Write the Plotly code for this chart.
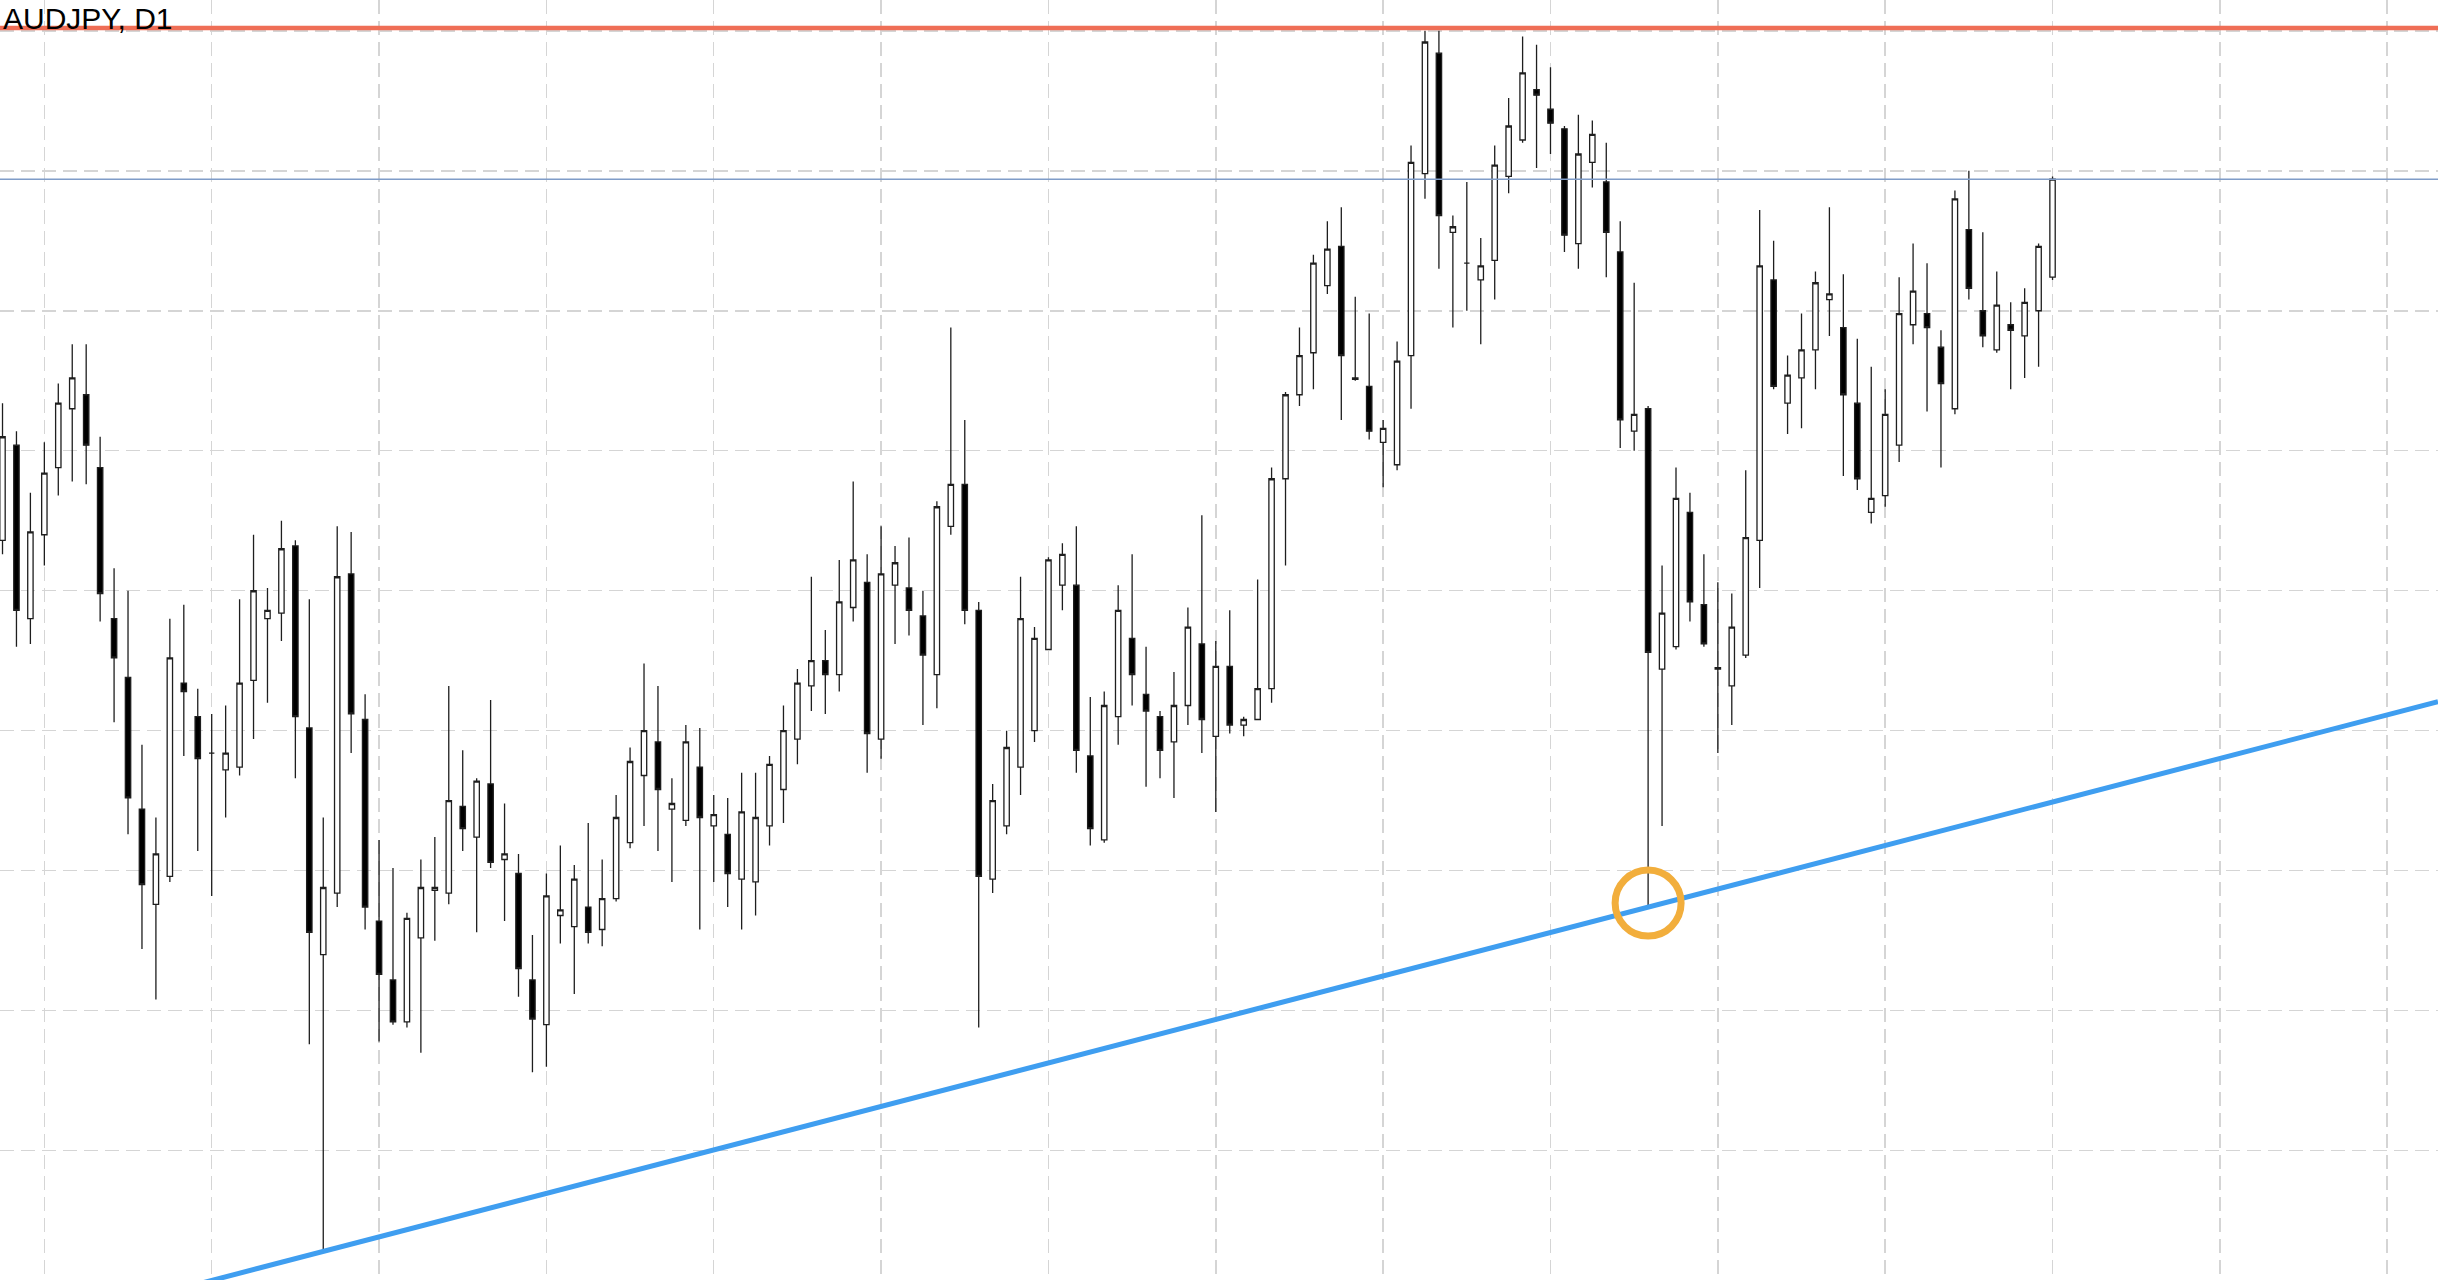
import plotly.graph_objects as go

# ---- data (AUDJPY, D1) ----
bar_index = list(range(148))
open_ = [78.68, 79.02, 78.40, 78.70, 78.94, 79.15, 79.20, 78.94, 78.40, 78.19,
         77.72, 77.38, 77.48, 78.17, 78.05, 77.92, 77.86, 77.87, 78.18, 78.40,
         78.42, 78.66, 78.01, 77.20, 77.42, 78.56, 78.04, 77.32, 77.11, 76.96,
         77.26, 77.43, 77.42, 77.73, 77.62, 77.81, 77.54, 77.49, 77.11, 76.95,
         77.34, 77.30, 77.37, 77.29, 77.40, 77.60, 77.84, 77.96, 77.72, 77.68,
         77.87, 77.66, 77.63, 77.47, 77.46, 77.66, 77.79, 77.97, 78.16, 78.25,
         78.20, 78.44, 78.53, 77.97, 78.52, 78.51, 78.41, 78.20, 78.73, 78.88,
         78.43, 77.47, 77.66, 77.87, 78.00, 78.29, 78.52, 78.52, 77.91, 77.61,
         78.05, 78.33, 78.13, 78.05, 77.96, 78.09, 78.31, 77.98, 78.23, 78.02,
         78.04, 78.15, 78.90, 79.20, 79.35, 79.59, 79.73, 79.26, 79.23, 79.03,
         78.95, 79.34, 79.99, 80.42, 79.78, 79.67, 79.61, 79.68, 79.98, 80.11,
         80.29, 80.22, 80.15, 79.74, 80.03, 79.96, 79.71, 79.07, 79.15, 78.22,
         78.30, 78.78, 78.45, 78.225, 78.16, 78.27, 78.68, 79.61, 79.17, 79.26,
         79.36, 79.54, 79.44, 79.17, 78.78, 78.84, 79.02, 79.45, 79.49, 79.37,
         79.15, 79.79, 79.50, 79.36, 79.45, 79.41, 79.50, 79.62]
high = [79.17, 79.07, 78.85, 79.03, 79.24, 79.38, 79.38, 79.05, 78.58, 78.50,
        77.95, 77.69, 78.40, 78.45, 78.15, 78.06, 78.09, 78.47, 78.70, 78.51,
        78.75, 78.68, 78.47, 77.69, 78.73, 78.71, 78.13, 77.61, 77.51, 77.35,
        77.54, 77.62, 78.16, 77.93, 77.83, 78.11, 77.74, 77.56, 77.27, 77.49,
        77.59, 77.52, 77.67, 77.54, 77.77, 77.94, 78.24, 78.16, 77.83, 78.02,
        78.01, 77.77, 77.76, 77.85, 77.85, 77.91, 78.09, 78.22, 78.55, 78.36,
        78.61, 78.89, 78.63, 78.73, 78.66, 78.69, 78.50, 78.82, 79.44, 79.11,
        78.46, 77.81, 78.00, 78.55, 78.37, 78.62, 78.67, 78.73, 78.12, 78.14,
        78.52, 78.63, 78.30, 78.07, 78.21, 78.44, 78.77, 78.32, 78.43, 78.05,
        78.54, 78.94, 79.21, 79.44, 79.70, 79.82, 79.87, 79.55, 79.49, 79.11,
        79.39, 80.09, 80.50, 80.50, 79.84, 79.96, 79.76, 80.09, 80.26, 80.48,
        80.45, 80.37, 80.16, 80.20, 80.18, 80.10, 79.82, 79.60, 79.16, 78.59,
        78.94, 78.85, 78.63, 78.53, 78.49, 78.93, 79.86, 79.75, 79.34, 79.49,
        79.64, 79.87, 79.63, 79.40, 79.30, 79.22, 79.62, 79.74, 79.67, 79.43,
        79.93, 80.00, 79.78, 79.64, 79.53, 79.58, 79.74, 79.98]
low = [78.63, 78.30, 78.31, 78.59, 78.84, 78.89, 78.88, 78.39, 78.03, 77.63,
       77.22, 77.04, 77.46, 77.91, 77.57, 77.41, 77.69, 77.84, 77.97, 78.10,
       78.32, 77.83, 76.88, 76.14, 77.37, 77.92, 77.29, 76.89, 76.95, 76.94,
       76.85, 77.25, 77.38, 77.57, 77.28, 77.51, 77.32, 77.05, 76.78, 76.80,
       77.24, 77.06, 77.24, 77.23, 77.39, 77.58, 77.66, 77.57, 77.46, 77.66,
       77.29, 77.46, 77.37, 77.29, 77.34, 77.59, 77.67, 77.88, 78.07, 78.06,
       78.14, 78.39, 77.85, 77.90, 78.31, 78.34, 78.02, 78.08, 78.70, 78.38,
       76.94, 77.42, 77.63, 77.77, 77.96, 78.29, 78.43, 77.85, 77.59, 77.60,
       77.95, 78.09, 77.80, 77.83, 77.76, 78.02, 77.92, 77.71, 77.99, 77.98,
       78.04, 78.10, 78.59, 79.16, 79.22, 79.56, 79.11, 79.25, 79.04, 78.87,
       78.93, 79.15, 79.90, 79.65, 79.44, 79.50, 79.38, 79.54, 79.92, 80.10,
       80.01, 80.06, 79.71, 79.65, 79.94, 79.62, 79.01, 79.00, 77.37, 77.66,
       78.29, 78.39, 78.30, 77.92, 78.02, 78.26, 78.51, 79.22, 79.06, 79.08,
       79.22, 79.41, 78.91, 78.86, 78.74, 78.80, 78.96, 79.38, 79.14, 78.94,
       79.13, 79.54, 79.37, 79.35, 79.22, 79.26, 79.30, 79.61]
close = [79.05, 78.43, 78.71, 78.92, 79.17, 79.26, 79.02, 78.49, 78.26, 77.76,
         77.45, 77.56, 78.26, 78.14, 77.90, 77.92, 77.92, 78.17, 78.50, 78.43,
         78.65, 78.05, 77.28, 77.44, 78.55, 78.06, 77.37, 77.13, 76.96, 77.33,
         77.44, 77.44, 77.75, 77.65, 77.82, 77.53, 77.56, 77.15, 76.97, 77.41,
         77.36, 77.47, 77.28, 77.40, 77.69, 77.89, 78.00, 77.79, 77.74, 77.96,
         77.69, 77.70, 77.49, 77.71, 77.69, 77.88, 78.00, 78.17, 78.25, 78.20,
         78.46, 78.61, 77.99, 78.56, 78.60, 78.43, 78.27, 78.80, 78.88, 78.43,
         77.48, 77.75, 77.94, 78.40, 78.33, 78.61, 78.63, 77.93, 77.65, 78.09,
         78.43, 78.20, 78.07, 77.93, 78.09, 78.37, 78.04, 78.23, 78.02, 78.04,
         78.15, 78.90, 79.20, 79.34, 79.67, 79.72, 79.34, 79.255, 79.07, 79.08,
         79.32, 80.03, 80.46, 79.84, 79.80, 79.67, 79.66, 80.02, 80.16, 80.35,
         80.27, 80.17, 79.77, 80.06, 80.13, 79.78, 79.11, 79.13, 78.28, 78.42,
         78.83, 78.46, 78.31, 78.22, 78.37, 78.69, 79.66, 79.23, 79.27, 79.36,
         79.60, 79.56, 79.20, 78.90, 78.83, 79.13, 79.49, 79.57, 79.44, 79.24,
         79.90, 79.58, 79.41, 79.52, 79.43, 79.53, 79.73, 79.97]

title_text = "AUDJPY, D1"
resistance_level = 80.51
current_level = 79.97
trend_touch_bars = [23, 118]          # bars whose lows define the rising trend line
highlight_bar = 118                    # bar circled on the trend line

# ---- axis extents (bar index / price) ----
x_range = [-0.18, 174.64]
y_range = [76.038, 80.61]

fig = go.Figure()
fig.add_trace(go.Candlestick(
    x=bar_index, open=open_, high=high, low=low, close=close,
    increasing=dict(line=dict(color="#1e1e1e", width=1.3), fillcolor="#ffffff"),
    decreasing=dict(line=dict(color="#1e1e1e", width=1.3), fillcolor="#000000"),
    whiskerwidth=0, hoverinfo="skip", showlegend=False,
))

# rising trend line through the two touch lows, extended across the view
xa, xb = trend_touch_bars
ya, yb = low[xa], low[xb]
slope = (yb - ya) / (xb - xa)
tx0, tx1 = x_range
fig.add_shape(type="line", xref="x", yref="y",
              x0=tx0, y0=ya + slope * (tx0 - xa), x1=tx1, y1=ya + slope * (tx1 - xa),
              line=dict(color="#3f9ef0", width=5), layer="above")

# resistance and current price lines
fig.add_shape(type="line", xref="paper", yref="y", x0=0, x1=1,
              y0=resistance_level, y1=resistance_level,
              line=dict(color="#ef6e56", width=4.5), layer="above")
fig.add_shape(type="line", xref="paper", yref="y", x0=0, x1=1,
              y0=current_level, y1=current_level,
              line=dict(color="#7f9cc8", width=1.5), layer="above")

# circle highlighting the touch
fig.add_shape(type="circle", xref="x", yref="y",
              xsizemode="pixel", ysizemode="pixel",
              xanchor=highlight_bar, yanchor=low[highlight_bar],
              x0=-33, x1=33, y0=-29, y1=37,
              line=dict(color="#f2ae3c", width=7), layer="above")

fig.add_annotation(text=title_text, xref="paper", yref="paper", x=0, y=1,
                   xanchor="left", yanchor="top", xshift=1, yshift=0,
                   showarrow=False,
                   font=dict(family="Liberation Sans, Arial, sans-serif", size=30, color="#000000"))

grid = dict(showgrid=True, gridcolor="#d5d5d5", gridwidth=1.5, griddash="14px,7px",
            showticklabels=False, zeroline=False, ticks="", showline=False)
fig.update_layout(
    width=2438, height=1280, autosize=False,
    margin=dict(l=0, r=0, t=0, b=0),
    paper_bgcolor="#ffffff", plot_bgcolor="#ffffff",
    showlegend=False, boxgap=0.45,
    xaxis=dict(range=x_range, tick0=3, dtick=12, rangeslider=dict(visible=False), **grid),
    yaxis=dict(range=y_range, tick0=76.0, dtick=0.5, **grid),
)

fig.write_html("out.html", config={"displayModeBar": False, "staticPlot": True},
               post_script="document.body.style.margin='0';document.body.style.overflow='hidden';")
